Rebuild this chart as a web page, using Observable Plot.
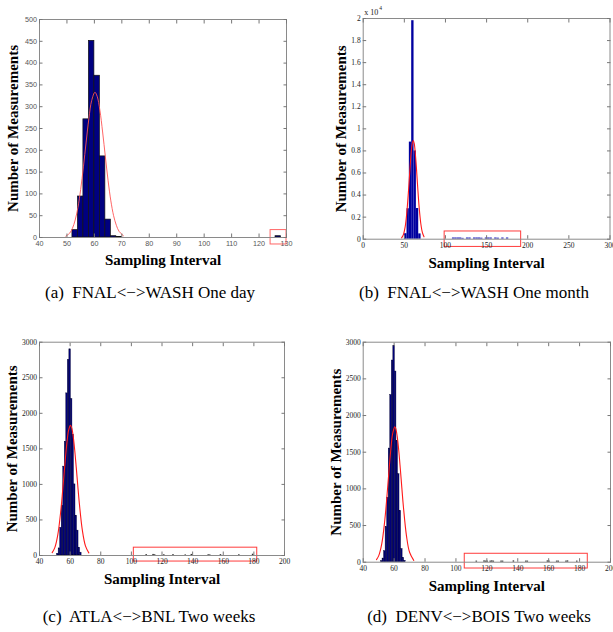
<!DOCTYPE html>
<html><head><meta charset="utf-8">
<script src="https://cdn.jsdelivr.net/npm/d3@7"></script>
<script src="https://cdn.jsdelivr.net/npm/@observablehq/plot@0.6"></script>
<style>
html,body{margin:0;padding:0;background:#fff;overflow:hidden;width:613px;height:632px;position:relative;}
.panel{position:absolute;}
.cap{position:absolute;font-family:"Liberation Serif","DejaVu Serif","Times New Roman",serif;font-size:17px;white-space:nowrap;transform:translate(-50%,-50%);color:#000;}
</style></head><body>
<div id="pa" class="panel" style="left:0;top:0"></div>
<div id="pb" class="panel" style="left:300px;top:0"></div>
<div id="pc" class="panel" style="left:0;top:300px"></div>
<div id="pd" class="panel" style="left:300px;top:300px"></div>
<div class="cap" style="left:150px;top:293px">(a)&nbsp; FNAL&lt;−&gt;WASH One day</div>
<div class="cap" style="left:474px;top:293px">(b)&nbsp; FNAL&lt;−&gt;WASH One month</div>
<div class="cap" style="left:149px;top:617px">(c)&nbsp; ATLA&lt;−&gt;BNL Two weeks</div>
<div class="cap" style="left:479px;top:617px">(d)&nbsp; DENV&lt;−&gt;BOIS Two weeks</div>
<script>
// ---------- Panel (a) FNAL<->WASH One day ----------
const aBinWidth = 2;
const aBinLo = [52, 54, 56, 58, 60, 62, 64, 66, 68, 126];
const aCounts = [17, 94, 271, 451, 371, 186, 41, 3, 1, 3];
const aFitX = [49.6, 51, 52, 53, 54, 55, 56, 57, 58, 59, 60.2, 61, 62, 63, 64, 65, 66, 67, 68, 69, 70.6];
const aFitY = [3, 10, 21, 40, 69, 110, 162, 219, 273, 314, 333, 324, 292, 242, 185, 130, 84, 50, 28, 14, 4];
const aBox = [124.2, 130, -16, 17];
const aXTicks = [40, 50, 60, 70, 80, 90, 100, 110, 120, 130];
const aYTicks = [0, 50, 100, 150, 200, 250, 300, 350, 400, 450, 500];

// ---------- Panel (b) FNAL<->WASH One month ----------
const bBinWidth = 2.85;
const bBinLo = [50.4, 53.25, 56.1, 58.95, 61.8, 64.65, 67.5];
const bCounts = [500, 2760, 8800, 19800, 8000, 2780, 480];
const bOutLo = [108.5, 111.3, 114.2, 117.0, 119.9, 125.5, 128.4, 134.1, 137.0, 139.8, 142.7, 148.4, 151.2, 154.1, 159.8, 162.7, 168.4, 174.1];
const bOutCounts = [120, 120, 120, 120, 80, 120, 120, 120, 120, 120, 100, 120, 120, 120, 120, 100, 120, 120];
const bFitX = [46.7, 49, 51, 53, 55, 57, 59, 60.8, 62, 64, 66, 68, 70, 72, 73.9];
const bFitY = [120, 437, 1113, 2390, 4314, 6543, 8342, 8950, 8675, 7168, 4976, 2906, 1426, 588, 217];
const bBox = [99, 192, -700, 700];
const bXTicks = [0, 50, 100, 150, 200, 250, 300];
const bYTicks = [0, 2000, 4000, 6000, 8000, 10000, 12000, 14000, 16000, 18000, 20000];

// ---------- Panel (c) ATLA<->BNL Two weeks ----------
const cBinWidth = 1;
const cBinLo = [51.5, 52.5, 53.5, 54.5, 55.5, 56.5, 57.5, 58.5, 59.5, 60.5, 61.5, 62.5, 63.5, 64.5, 65.5, 66.5];
const cCounts = [25, 100, 390, 700, 1250, 1600, 2280, 2750, 2900, 2200, 1700, 1000, 560, 350, 110, 40];
const cOutLo = [109.5, 114, 115, 121, 127, 135, 139, 150, 151, 158, 170, 179];
const cOutCounts = [12, 15, 10, 10, 12, 8, 15, 10, 8, 12, 10, 18];
const cFitX = [48.3, 50, 52, 54, 55, 56, 57, 58, 59, 60.2, 61, 62, 63, 64, 65, 66, 68, 70, 72.2];
const cFitY = [40, 110, 297, 648, 881, 1136, 1387, 1605, 1761, 1830, 1799, 1676, 1480, 1239, 981, 737, 353, 136, 37];
const cBox = [101.6, 182.2, -85, 110];
const cXTicks = [40, 60, 80, 100, 120, 140, 160, 180, 200];
const cYTicks = [0, 500, 1000, 1500, 2000, 2500, 3000];

// ---------- Panel (d) DENV<->BOIS Two weeks ----------
const dBinWidth = 1;
const dBinLo = [51.5, 52.5, 53.5, 54.5, 55.5, 56.5, 57.5, 58.5, 59.5, 60.5, 61.5, 62.5, 63.5, 64.5, 65.5, 66.5];
const dCounts = [15, 50, 150, 480, 880, 1550, 2280, 2750, 2950, 2600, 1650, 1200, 700, 180, 60, 20];
const dOutLo = [113, 118, 119, 120, 122, 123, 124, 129, 130, 137, 145, 146, 159, 160, 165, 166, 171, 172, 178];
const dOutCounts = [15, 18, 15, 15, 15, 18, 15, 15, 15, 18, 15, 15, 18, 15, 15, 15, 15, 18, 15];
const dFitX = [48.6, 50, 52, 54, 55, 56, 57, 58, 59, 60.4, 61, 62, 63, 64, 65, 66, 68, 70, 72.7];
const dFitY = [36, 86, 250, 578, 807, 1066, 1330, 1567, 1745, 1845, 1826, 1716, 1523, 1278, 1013, 759, 359, 135, 25];
const dBox = [105.7, 185.3, -86, 115];
const dXTicks = [40, 60, 80, 100, 120, 140, 160, 180, 200];
const dYTicks = [0, 500, 1000, 1500, 2000, 2500, 3000];

const xTitle = "Sampling Interval";
const yTitle = "Number of Measurements";

function panel(o) {
  const bars = o.lo.map((lo, i) => ({x1: lo, x2: lo + o.bw, y: o.counts[i]}));
  const outl = (o.outLo || []).map((lo, i) => ({x1: lo, x2: lo + o.bw, y: o.outCounts[i]}));
  const fit = o.fitX.map((x, i) => ({x, y: o.fitY[i]}));
  const tf = {fontFamily: o.tickFamily, fontSize: o.tickFont, fill: o.tickColor};
  const titleFont = {fontFamily: "Liberation Serif", fontWeight: "bold", fontSize: 15, fill: "#000", textAnchor: "middle", lineAnchor: "middle"};
  const marks = [
    Plot.rect(bars, {x1: "x1", x2: "x2", y1: () => 0, y2: "y", fill: o.barFill, stroke: o.barStroke, strokeWidth: o.barStrokeWidth}),
    Plot.rect(outl, {x1: "x1", x2: "x2", y1: () => 0, y2: "y", fill: o.outFill}),
    Plot.line(fit, {x: "x", y: "y", stroke: o.fitColor, strokeWidth: o.fitWidth, curve: "catmull-rom"}),
    Plot.rect([o.box], {x1: d => d[0], x2: d => d[1], y1: d => d[2], y2: d => d[3], fill: "none", stroke: o.boxColor, strokeWidth: 1}),
    Plot.frame({stroke: "#8a8a8a", strokeWidth: 1}),
    Plot.axisX({anchor: "bottom", ticks: o.xTicks, tickSize: -3.5, fill: "none", stroke: "#777", label: null}),
    Plot.axisX({anchor: "top", ticks: o.xTicks, tickSize: -3.5, fill: "none", stroke: "#777", label: null}),
    Plot.axisY({anchor: "left", ticks: o.yTicks, tickSize: -3.5, fill: "none", stroke: "#777", label: null}),
    Plot.axisY({anchor: "right", ticks: o.yTicks, tickSize: -3.5, fill: "none", stroke: "#777", label: null}),
    Plot.axisX({anchor: "bottom", ticks: o.xTicks, tickSize: 0, tickPadding: 3.5, label: null, tickFormat: o.xFormat || (d => String(d)), ...tf}),
    Plot.axisY({anchor: "left", ticks: o.yTicks, tickSize: 0, tickPadding: 2.5, label: null, tickFormat: o.yFormat || (d => String(d)), ...tf}),
    Plot.text([xTitle], {text: d => d, frameAnchor: "bottom", dy: o.xTitleDy, ...titleFont}),
    Plot.text([yTitle], {text: d => d, frameAnchor: "left", dx: o.yTitleDx, rotate: -90, ...titleFont})
  ];
  if (o.exponent) {
    marks.push(Plot.text(["x 10"], {text: d => d, frameAnchor: "top-left", textAnchor: "start", lineAnchor: "middle", dx: 1, dy: -6, fontFamily: "Liberation Serif", fontSize: 8, fill: "#222"}));
    marks.push(Plot.text([o.exponent], {text: d => d, frameAnchor: "top-left", textAnchor: "start", lineAnchor: "middle", dx: 16, dy: -10, fontFamily: "Liberation Serif", fontSize: 5.5, fill: "#222"}));
  }
  return Plot.plot({
    width: o.width, height: o.height,
    marginTop: o.mt, marginRight: o.mr, marginBottom: o.mb, marginLeft: o.ml,
    x: {domain: o.xDomain}, y: {domain: o.yDomain},
    style: {background: "transparent"},
    marks
  });
}

const serifTicks = {tickFamily: "Liberation Serif", tickFont: 7.5, tickColor: "#222"};

document.getElementById("pa").append(panel({
  width: 300, height: 272, mt: 19, mr: 14, mb: 35, ml: 39,
  xDomain: [40, 130], yDomain: [0, 500], xTicks: aXTicks, yTicks: aYTicks,
  lo: aBinLo, counts: aCounts, bw: aBinWidth, fitX: aFitX, fitY: aFitY, box: aBox,
  barFill: "#000080", barStroke: "#111", barStrokeWidth: 0.7, outFill: "#000080",
  fitColor: "#ff5555", fitWidth: 0.9, boxColor: "#ff6666",
  tickFamily: "Liberation Sans", tickFont: 7.2, tickColor: "#555",
  xTitleDy: 23, yTitleDx: -26
}));

document.getElementById("pb").append(panel({
  width: 313, height: 274, mt: 18, mr: 3.5, mb: 35.3, ml: 62.7,
  xDomain: [0, 300], yDomain: [0, 20000], xTicks: bXTicks, yTicks: bYTicks,
  yFormat: d => String(d / 10000), exponent: "4",
  lo: bBinLo, counts: bCounts, bw: bBinWidth, outLo: bOutLo, outCounts: bOutCounts,
  fitX: bFitX, fitY: bFitY, box: bBox,
  barFill: "#0000a0", barStroke: "none", barStrokeWidth: 0, outFill: "#4848c8",
  fitColor: "#ff1a1a", fitWidth: 1.1, boxColor: "#ff3b3b",
  ...serifTicks,
  xTitleDy: 24.3, yTitleDx: -21.7
}));

document.getElementById("pc").append(panel({
  width: 300, height: 290, mt: 41.7, mr: 16, mb: 35, ml: 39,
  xDomain: [40, 200], yDomain: [0, 3000], xTicks: cXTicks, yTicks: cYTicks,
  lo: cBinLo, counts: cCounts, bw: cBinWidth, outLo: cOutLo, outCounts: cOutCounts,
  fitX: cFitX, fitY: cFitY, box: cBox,
  barFill: "#00007a", barStroke: "#000030", barStrokeWidth: 0.4, outFill: "#333",
  fitColor: "#ff1a1a", fitWidth: 1.1, boxColor: "#ff3b3b",
  ...serifTicks,
  xTitleDy: 24, yTitleDx: -27
}));

document.getElementById("pd").append(panel({
  width: 313, height: 297, mt: 41.7, mr: 3, mb: 35.3, ml: 62.7,
  xDomain: [40, 200], yDomain: [0, 3000], xTicks: dXTicks, yTicks: dYTicks,
  lo: dBinLo, counts: dCounts, bw: dBinWidth, outLo: dOutLo, outCounts: dOutCounts,
  fitX: dFitX, fitY: dFitY, box: dBox,
  barFill: "#00007a", barStroke: "#000030", barStrokeWidth: 0.4, outFill: "#333",
  fitColor: "#ff1a1a", fitWidth: 1.1, boxColor: "#ff3b3b",
  ...serifTicks,
  xTitleDy: 24.3, yTitleDx: -26.7
}));
</script>
</body></html>
